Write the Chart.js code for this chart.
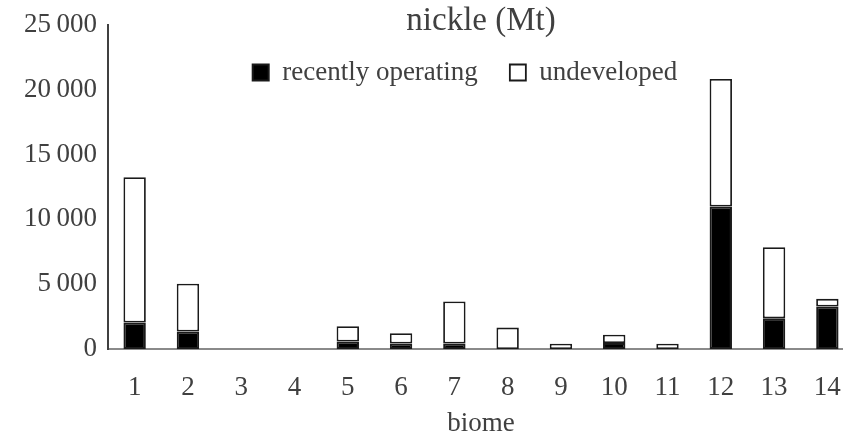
<!DOCTYPE html>
<html>
<head>
<meta charset="utf-8">
<script src="https://cdn.jsdelivr.net/npm/chart.js@4"></script>
<style>
  html, body { margin: 0; padding: 0; background: #ffffff; overflow: hidden; }
  #wrap { position: relative; width: 860px; height: 437px; }
</style>
</head>
<body>
<div id="wrap"><canvas id="c"></canvas></div>
<script>
// ---- data ----
const categories = ['1', '2', '3', '4', '5', '6', '7', '8', '9', '10', '11', '12', '13', '14'];
const recentlyOperating = [2050, 1350, 0, 0, 580, 430, 430, 0, 0, 460, 0, 11000, 2370, 3270];
const undeveloped = [11200, 3680, 0, 0, 1170, 780, 3230, 1650, 410, 640, 410, 9830, 5490, 600];
const seriesNames = ['recently operating', 'undeveloped'];
const chartTitle = 'nickle (Mt)';
const xAxisTitle = 'biome';
const yMin = 0, yMax = 25000, yStep = 5000;

// ---- styling ----
const TEXT = '#404040';
const FONT = '"Liberation Serif", "Times New Roman", serif';
const TITLE_TOP = 2;
const LEGEND_TOP = 27;
const LEGEND_CENTER = 465;

// keep title and legend from taking layout space; place them over the plot
const overlayPlugin = {
  id: 'overlayBoxes',
  beforeLayout(chart) {
    [chart.titleBlock, chart.legend].forEach(box => {
      if (!box || box._wrapped) return;
      const orig = box.update;
      box.update = function (...args) {
        orig.apply(this, args);
        this._realH = this.height;
        this.height = 0;
      };
      box._wrapped = true;
    });
  },
  afterLayout(chart) {
    const ca = chart.chartArea;
    const t = chart.titleBlock;
    if (t) {
      t.left = ca.left; t.right = ca.right; t.width = ca.right - ca.left;
      t.top = TITLE_TOP; t.height = t._realH || 40; t.bottom = t.top + t.height;
    }
    const lg = chart.legend;
    if (lg) {
      lg.left = LEGEND_CENTER - 420; lg.right = LEGEND_CENTER + 420; lg.width = 840;
      lg.top = LEGEND_TOP; lg.height = lg._realH || 100; lg.bottom = lg.top + lg.height;
    }
  }
};

function fmt(v) {
  return String(v).replace(/\B(?=(\d{3})+(?!\d))/g, '\u2009');
}

new Chart(document.getElementById('c'), {
  type: 'bar',
  data: {
    labels: categories,
    datasets: [
      {
        label: seriesNames[0],
        data: recentlyOperating,
        backgroundColor: '#000000',
        borderColor: '#1a1a1a',
        borderWidth: 2,
        borderSkipped: false
      },
      {
        label: seriesNames[1],
        data: undeveloped,
        backgroundColor: '#ffffff',
        borderColor: '#1a1a1a',
        borderWidth: 1.8,
        borderSkipped: false
      }
    ]
  },
  options: {
    responsive: true,
    maintainAspectRatio: false,
    animation: false,
    devicePixelRatio: 1,
    layout: { padding: { left: 0, right: 6, top: 25, bottom: 0 } },
    datasets: { bar: { categoryPercentage: 1.0, barPercentage: 0.42 } },
    plugins: {
      tooltip: { enabled: false },
      title: {
        display: true,
        text: chartTitle,
        color: TEXT,
        font: { family: FONT, size: 33, weight: 'normal', lineHeight: 1.2 },
        padding: 0
      },
      legend: {
        display: true,
        position: 'top',
        labels: {
          color: TEXT,
          font: { family: FONT, size: 27 },
          boxWidth: 16,
          boxHeight: 16,
          padding: 32
        }
      }
    },
    scales: {
      x: {
        stacked: true,
        offset: true,
        grid: { display: false, drawTicks: false },
        border: { display: true, color: '#8a8a8a', width: 2 },
        ticks: { color: TEXT, font: { family: FONT, size: 27 }, padding: 23, maxRotation: 0, autoSkip: false },
        title: {
          display: true,
          text: xAxisTitle,
          color: TEXT,
          font: { family: FONT, size: 27, lineHeight: 1.0 },
          padding: { top: 0, bottom: 0 }
        },
        afterFit(s) { s.height = 88; s.paddingLeft = 0; s.paddingRight = 0; }
      },
      y: {
        stacked: true,
        min: yMin,
        max: yMax,
        grid: { display: false, drawTicks: false },
        border: { display: true, color: '#404040', width: 2 },
        ticks: {
          stepSize: yStep,
          color: TEXT,
          font: { family: FONT, size: 27 },
          padding: 11,
          callback: (v) => fmt(v)
        },
        afterFit(s) { s.width = 108; s.paddingTop = 0; s.paddingBottom = 0; }
      }
    }
  },
  plugins: [overlayPlugin]
});
</script>
</body>
</html>
